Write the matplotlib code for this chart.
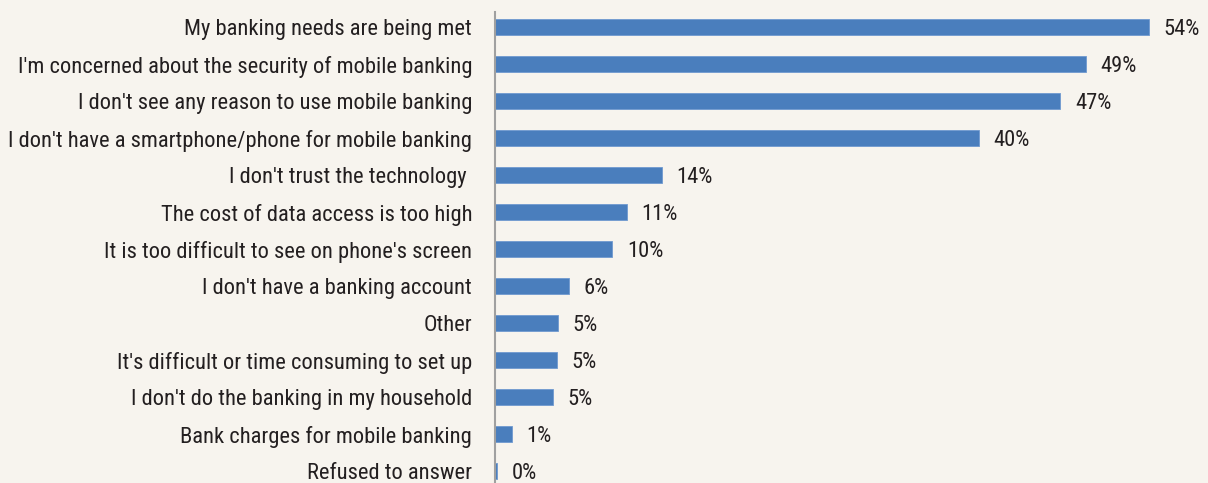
import matplotlib
matplotlib.use('Agg')
import matplotlib.pyplot as plt

reasons = [
    "My banking needs are being met",
    "I'm concerned about the security of mobile banking",
    "I don't see any reason to use mobile banking",
    "I don't have a smartphone/phone for mobile banking",
    "I don't trust the technology ",
    "The cost of data access is too high",
    "It is too difficult to see on phone's screen",
    "I don't have a banking account",
    "Other",
    "It's difficult or time consuming to set up",
    "I don't do the banking in my household",
    "Bank charges for mobile banking",
    "Refused to answer",
]
shares = [54.0, 48.8, 46.7, 40.0, 13.8, 10.9, 9.7, 6.1, 5.2, 5.1, 4.8, 1.4, 0.2]
share_labels = ["54%", "49%", "47%", "40%", "14%", "11%", "10%", "6%", "5%", "5%", "5%", "1%", "0%"]

plt.rcParams['font.family'] = ['Roboto Condensed', 'Archivo Narrow', 'Liberation Sans', 'DejaVu Sans']

bg = '#f7f4ee'
ink = '#231f20'
fs = 16.2
fig = plt.figure(figsize=(12.08, 4.83), dpi=100, facecolor=bg)
W, H = 1208, 483
ax = fig.add_axes([495 / W, 0, 1 - 495 / W, 1 - 12 / H], facecolor=bg)

ypos = list(range(len(reasons)))
ax.barh(ypos, shares, height=0.44, color='#4a7ebd', edgecolor='#6f9ad0', linewidth=0.6)
for y, v, lab in zip(ypos, shares, share_labels):
    ax.text(v + 1.2, y, lab, va='center_baseline', ha='left', fontsize=fs, color=ink)

ax.set_yticks(ypos)
ax.set_yticklabels(reasons, fontsize=fs, color=ink)
ax.tick_params(axis='y', length=0, pad=16.5)
ax.set_xticks([])
ax.set_xlim(0, 58.9)
ax.set_ylim(12.32, -0.405)
for s in ['top', 'right', 'bottom']:
    ax.spines[s].set_visible(False)
ax.spines['left'].set_color('#a0a0a0')
ax.spines['left'].set_linewidth(1.5)

fig.savefig('out.png', dpi=100, facecolor=bg)
